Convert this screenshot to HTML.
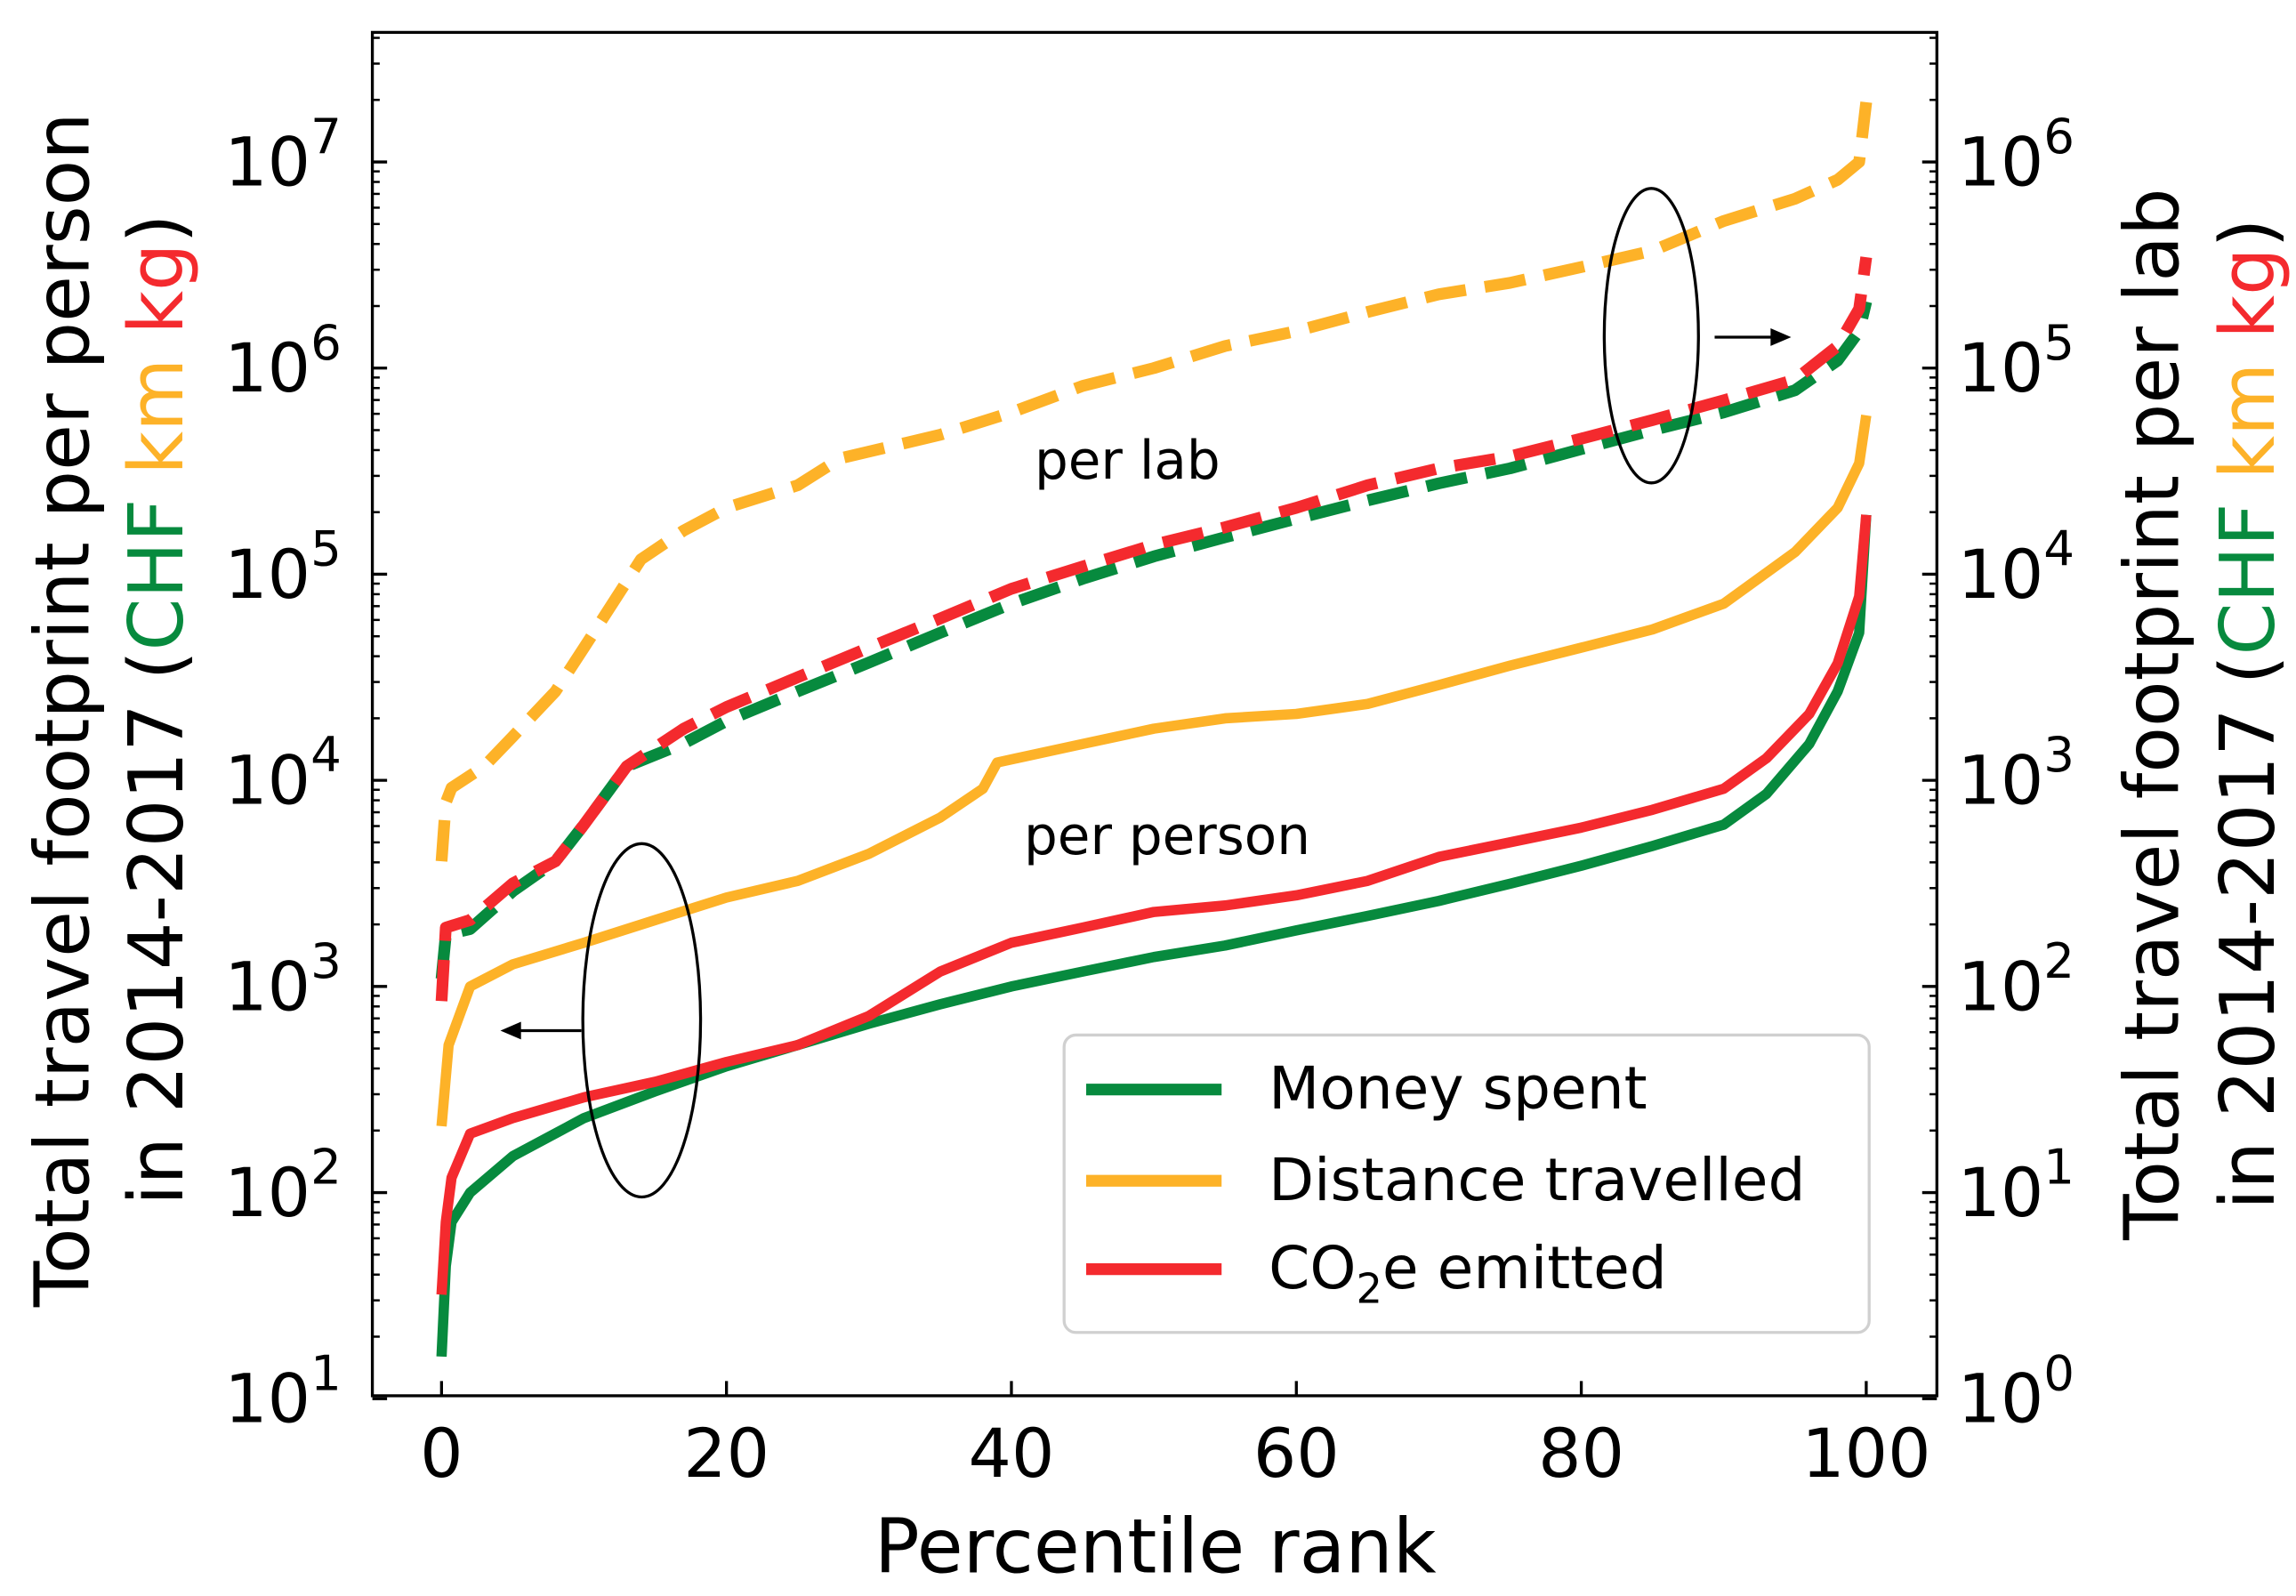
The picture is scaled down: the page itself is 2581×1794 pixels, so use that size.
<!DOCTYPE html>
<html><head><meta charset="utf-8"><style>
html,body{margin:0;padding:0;background:#fff;}
svg{display:block;font-family:"DejaVu Sans","Liberation Sans",sans-serif;}
</style></head><body>
<svg id="chart" width="2581" height="1794" viewBox="0 0 1560 1084" preserveAspectRatio="none" xmlns="http://www.w3.org/2000/svg">
<g id="plot"></g>
</svg>
<script>
// x positions (percentile rank)
const pxDist = [0,0.5,2,5,10,15,20,25,30,35,38,39,45,50,55,60,65,70,75,80,85,90,95,98,99.5,100];
const personDistance = [210,520,1000,1280,1630,2100,2700,3250,4400,6600,9100,12200,15000,17800,20000,21000,23500,29000,36000,44000,54000,72000,128000,210000,345000,590000];
const pxPerson = [0,0.3,0.7,2,5,10,15,20,25,30,35,40,45,50,55,60,65,70,75,80,85,90,93,96,98,99.5,100];
const personMoney = [16,44,72,100,150,230,310,410,520,660,820,1000,1180,1390,1580,1870,2200,2600,3150,3850,4800,6100,8600,15000,27000,52000,194000];
const personCO2 = [32,72,118,193,230,290,345,430,520,720,1180,1630,1930,2300,2470,2770,3250,4250,5000,5900,7200,9100,12800,21000,37000,78000,194000];
const pxLabDist = [0,0.3,0.7,3,5,8,10,14,17,20,25,28,35,40,45,50,55,60,65,70,75,80,85,90,95,98,99.5,100];
const labDistance = [405,780,920,1170,1630,2700,4400,11800,16300,21000,27000,36500,47500,61000,82000,100000,128000,151000,187000,228000,259000,309000,371000,517000,663000,819000,1000000,1950000];
const pxLab = [0,0.3,2,5,8,10,13,17,20,25,30,35,40,45,50,55,60,65,70,75,80,85,90,95,98,99.5,100];
const labCO2 = [85,193,210,316,405,610,1170,1780,2270,3160,4400,6100,8500,10900,13900,16900,21000,27000,32600,37300,45500,56000,69700,87800,128000,194000,345000];
const labMoney = [109,178,190,290,405,610,1170,1510,1940,2700,3730,5200,7200,9500,12200,15100,18600,22800,27600,32600,40500,50000,61000,78000,109000,151000,210000];
const xTicks = [0,20,40,60,80,100];
const leftExps = [1,2,3,4,5,6,7];
const rightExps = [0,1,2,3,4,5,6];

const NS="http://www.w3.org/2000/svg";
const svg=document.getElementById('chart');
const L=253,R=1316,T=22,B=948;
const X=v=>300+v*9.68;
const YL=v=>950-(Math.log10(v)-1)*140;
const YR=v=>950-Math.log10(v)*140;
function mk(tag,attrs,parent){const e=document.createElementNS(NS,tag);for(const k in attrs)e.setAttribute(k,attrs[k]);(parent||svg).appendChild(e);return e;}
const GREEN='#078a3e',ORANGE='#fdb228',RED='#f42a2e';

function line(xs,ys,yf,color,dash,name){
  const d=xs.map((x,i)=>(i?'L':'M')+X(x).toFixed(1)+','+yf(ys[i]).toFixed(1)).join(' ');
  const p=mk('path',{d:d,fill:'none',stroke:color,'stroke-width':dash?8:7,'stroke-linejoin':'round','stroke-dasharray':dash?'28 13':'none'});
  
  
}
line(pxLabDist,labDistance,YR,ORANGE,true,'per-lab-distance-line');
line(pxLab,labMoney,YR,GREEN,true,'per-lab-money-line');
line(pxLab,labCO2,YR,RED,true,'per-lab-co2-line');
line(pxDist,personDistance,YL,ORANGE,false,'per-person-distance-line');
line(pxPerson,personMoney,YL,GREEN,false,'per-person-money-line');
line(pxPerson,personCO2,YL,RED,false,'per-person-co2-line');

const fr=mk('rect',{x:L,y:T,width:R-L,height:B-T,fill:'none',stroke:'#000','stroke-width':2});



xTicks.forEach(v=>{
  mk('line',{x1:X(v),x2:X(v),y1:B,y2:B-10,stroke:'#000','stroke-width':2});
  const t=mk('text',{x:X(v),y:1003,'font-size':46,'text-anchor':'middle'});t.textContent=v;
  
  
});
function yaxis(exps,yf,side){
  exps.forEach(e=>{
    const y=yf(Math.pow(10,e));
    if(y<T-1||y>B+3)return;
    const x0=side==='L'?L:R, dir=side==='L'?1:-1;
    mk('line',{x1:x0,x2:x0+dir*10,y1:y,y2:y,stroke:'#000','stroke-width':2});
    for(let m=2;m<10;m++){const ym=yf(m*Math.pow(10,e));if(ym>=T)mk('line',{x1:x0,x2:x0+dir*5,y1:ym,y2:ym,stroke:'#000','stroke-width':1.5});}
    const t=mk('text',{x:side==='L'?232:1330,y:y+16,'font-size':46,'text-anchor':side==='L'?'end':'start'});
    t.innerHTML='10<tspan dy="-22" font-size="33">'+e+'</tspan>';
    
    
  });
}
yaxis(leftExps,v=>YL(v),'L');
yaxis(rightExps,v=>YR(v),'R');
</script>
<svg style="position:absolute;left:0;top:0" width="2581" height="1794" viewBox="0 0 1560 1084" preserveAspectRatio="none" xmlns="http://www.w3.org/2000/svg" font-family="DejaVu Sans, Liberation Sans, sans-serif">
<text x="785" y="1068" font-size="51" text-anchor="middle">Percentile rank</text>
<text transform="translate(60,482) rotate(-90)" font-size="51" text-anchor="middle">Total travel footprint per person</text>
<text transform="translate(124,482) rotate(-90)" font-size="51" text-anchor="middle">in 2014-2017 (<tspan fill="#078a3e">CHF</tspan> <tspan fill="#fdb228">km</tspan> <tspan fill="#f42a2e">kg</tspan>)</text>
<text transform="translate(1480,485) rotate(-90)" font-size="51" text-anchor="middle">Total travel footprint per lab</text>
<text transform="translate(1545,485) rotate(-90)" font-size="51" text-anchor="middle">in 2014-2017 (<tspan fill="#078a3e">CHF</tspan> <tspan fill="#fdb228">km</tspan> <tspan fill="#f42a2e">kg</tspan>)</text>
<text x="766" y="325" font-size="36" text-anchor="middle">per lab</text>
<text x="793" y="580" font-size="36" text-anchor="middle">per person</text>
<ellipse cx="436" cy="693" rx="40" ry="120" fill="none" stroke="#000" stroke-width="2"/>
<ellipse cx="1122" cy="228" rx="32" ry="100" fill="none" stroke="#000" stroke-width="2"/>
<g><line x1="395" y1="700" x2="350" y2="700" stroke="#000" stroke-width="2"/><polygon points="340,700 354,694 354,706" fill="#000"/></g>
<g><line x1="1165" y1="229" x2="1207" y2="229" stroke="#000" stroke-width="2"/><polygon points="1217,229 1203,223 1203,235" fill="#000"/></g>
<g>
<rect x="723" y="703" width="547" height="202" rx="8" fill="#fff" fill-opacity="0.85" stroke="#d0d0d0" stroke-width="2"/>
<line x1="738" y1="740" x2="830" y2="740" stroke="#078a3e" stroke-width="8"/>
<text x="862" y="753" font-size="40">Money spent</text>
<line x1="738" y1="802" x2="830" y2="802" stroke="#fdb228" stroke-width="8"/>
<text x="862" y="815" font-size="40">Distance travelled</text>
<line x1="738" y1="862" x2="830" y2="862" stroke="#f42a2e" stroke-width="8"/>
<text x="862" y="875" font-size="40">CO<tspan dy="10" font-size="28">2</tspan><tspan dy="-10">e emitted</tspan></text>
</g>
</svg>
</body></html>
